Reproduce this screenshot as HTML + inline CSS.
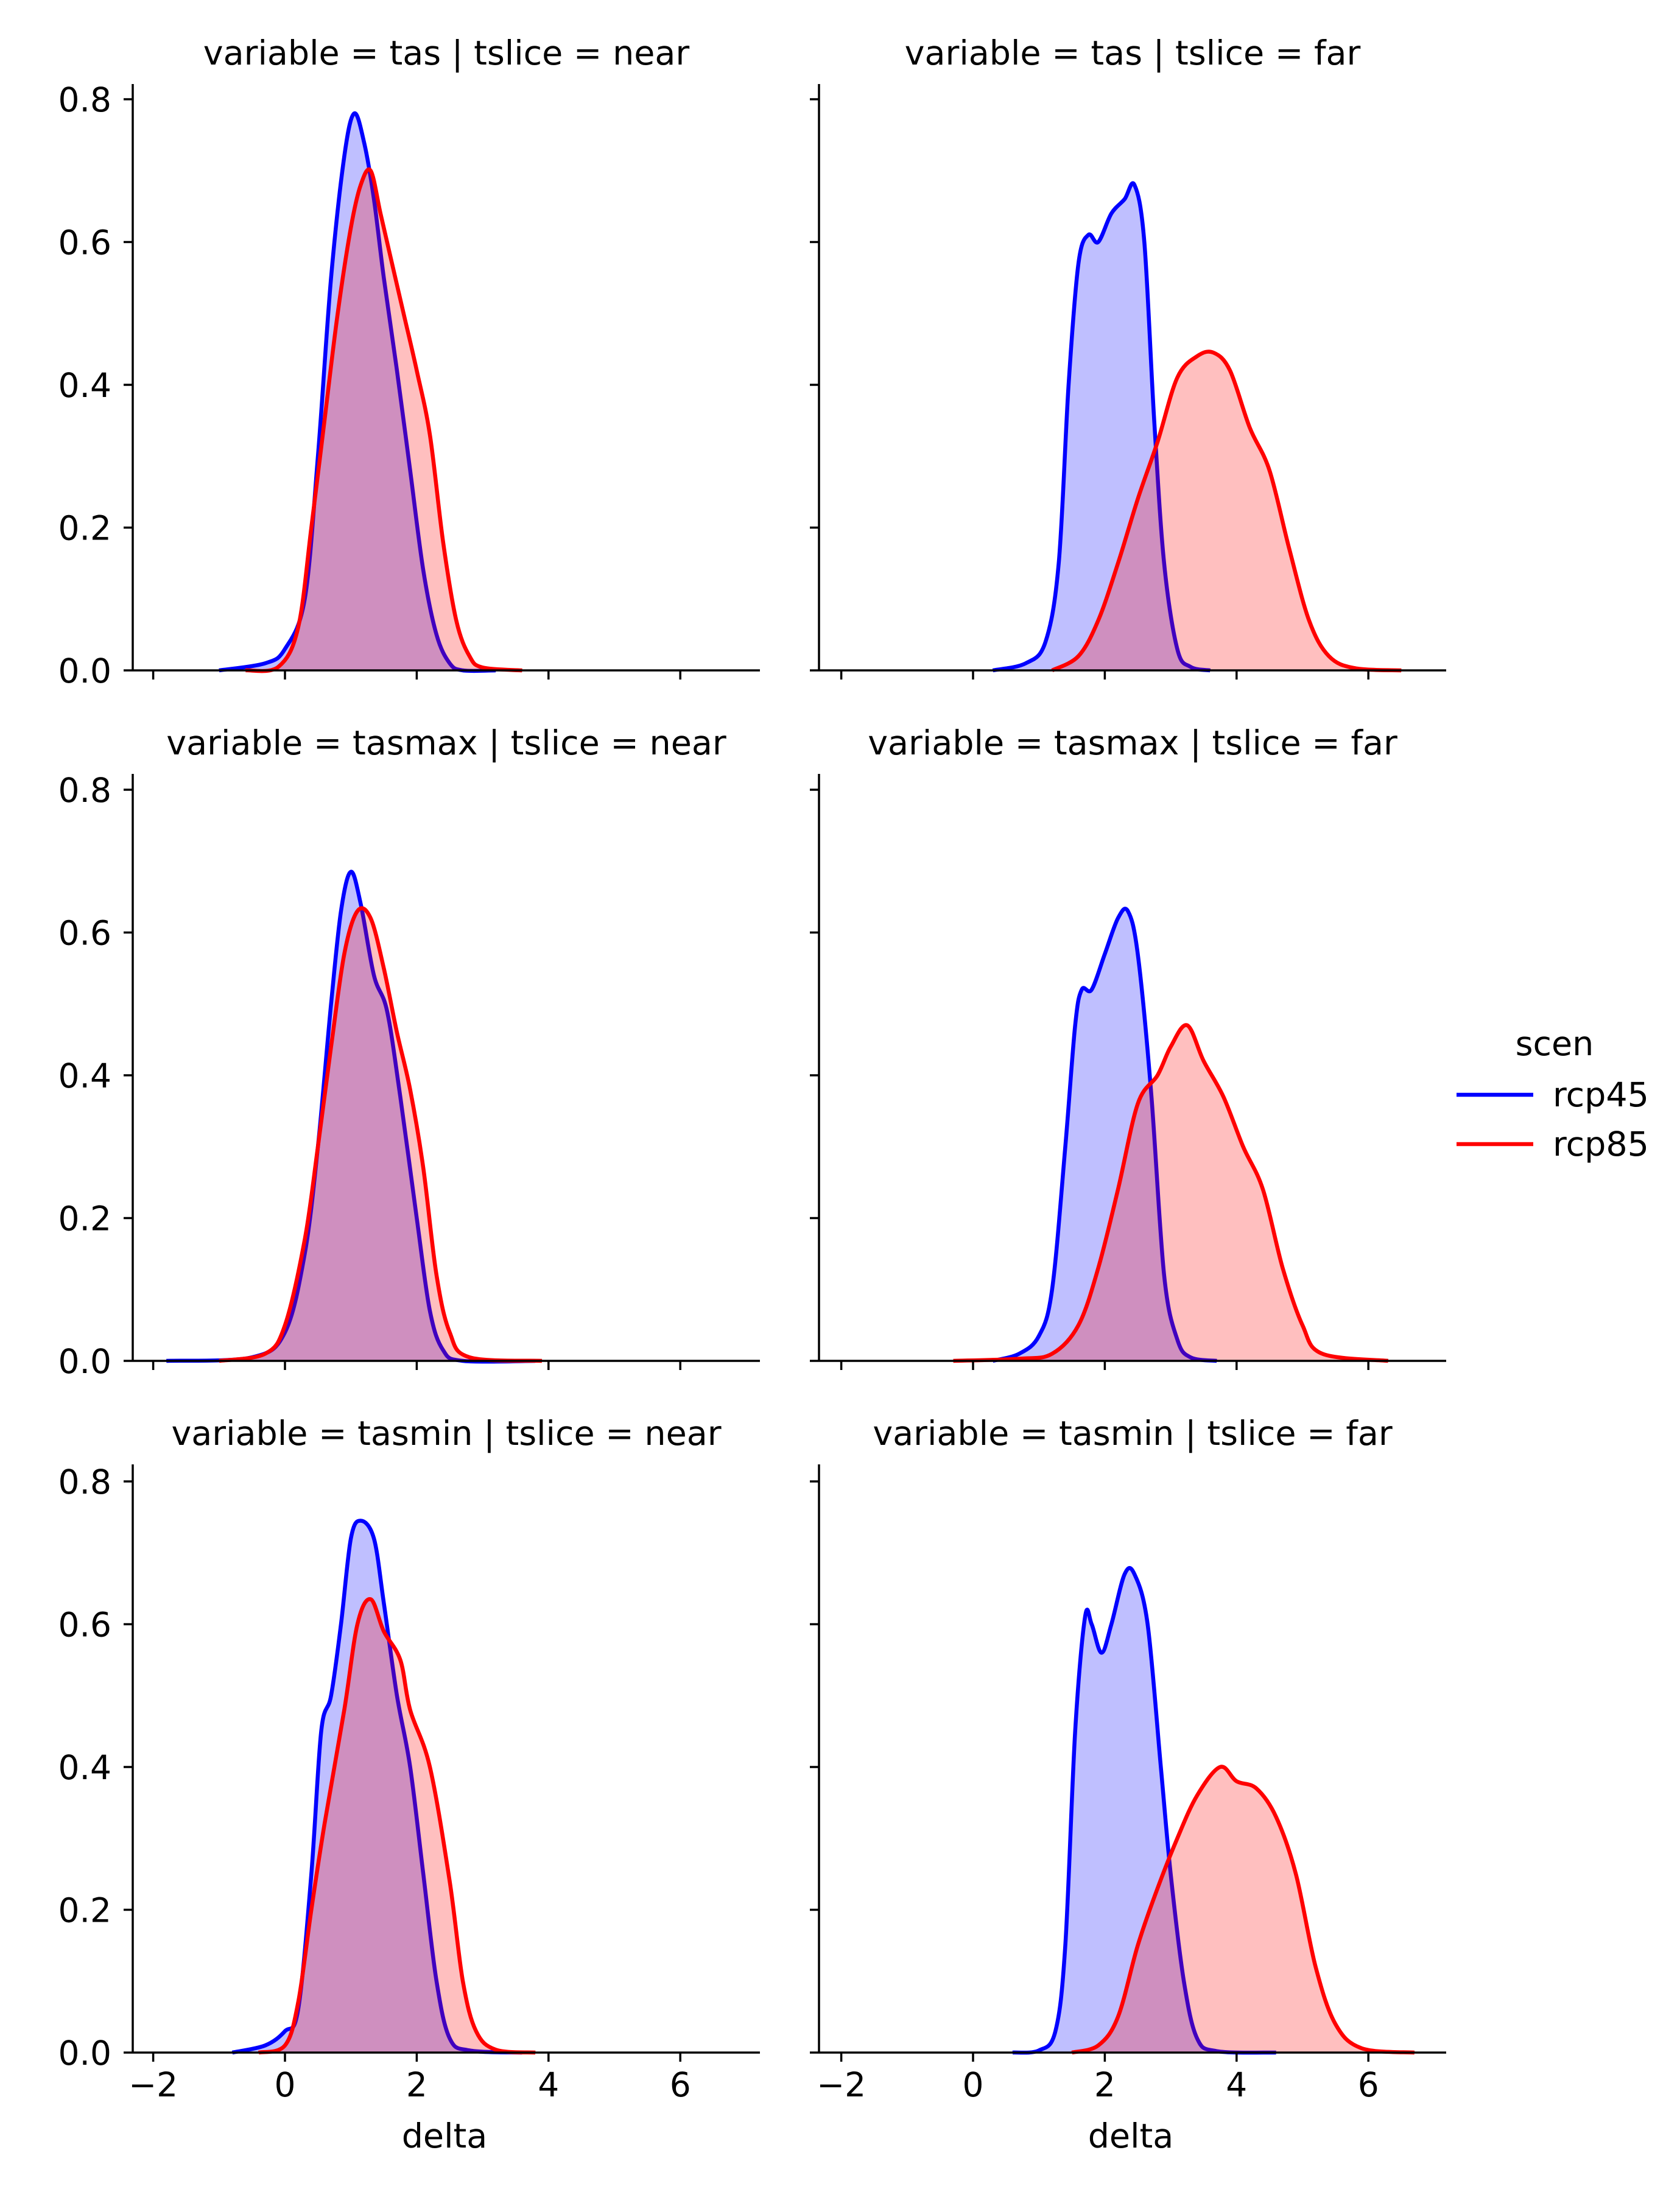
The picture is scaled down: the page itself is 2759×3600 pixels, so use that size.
<!DOCTYPE html>
<html><head><meta charset="utf-8"><style>
html,body{margin:0;padding:0;background:#fff}
svg{display:block;font-family:"DejaVu Sans","Liberation Sans",sans-serif}
</style></head><body>
<svg id="chart" width="2759" height="3600" viewBox="0 0 2759 3600" xmlns="http://www.w3.org/2000/svg"></svg>
<script>
const titles = ["variable = tas | tslice = near","variable = tas | tslice = far","variable = tasmax | tslice = near","variable = tasmax | tslice = far","variable = tasmin | tslice = near","variable = tasmin | tslice = far"];
const xTicks = [-2,0,2,4,6];
const yTicks = [0,0.2,0.4,0.6,0.8];
const yTickLabels = ["0.0","0.2","0.4","0.6","0.8"];
const rcp45TasNear = [[-1,0],[-0.3,0.01],[0,0.03],[0.3,0.1],[0.5,0.3],[0.7,0.55],[0.9,0.72],[1.05,0.78],[1.2,0.74],[1.35,0.66],[1.5,0.55],[1.7,0.42],[1.9,0.28],[2.1,0.14],[2.3,0.05],[2.5,0.01],[2.7,0],[3.2,0]];
const rcp85TasNear = [[-0.6,0],[-0.1,0.005],[0.2,0.06],[0.4,0.2],[0.6,0.35],[0.8,0.5],[1.0,0.62],[1.15,0.68],[1.3,0.7],[1.45,0.64],[1.6,0.58],[1.8,0.5],[2.0,0.42],[2.2,0.33],[2.4,0.18],[2.6,0.07],[2.8,0.02],[3.0,0.004],[3.6,0]];
const rcp45TasFar = [[0.3,0],[0.8,0.01],[1.1,0.04],[1.3,0.15],[1.45,0.4],[1.6,0.57],[1.75,0.61],[1.9,0.6],[2.1,0.64],[2.3,0.66],[2.45,0.68],[2.6,0.6],[2.75,0.35],[2.9,0.15],[3.1,0.03],[3.3,0.005],[3.6,0]];
const rcp85TasFar = [[1.2,0],[1.6,0.02],[1.9,0.07],[2.2,0.15],[2.5,0.24],[2.8,0.32],[3.1,0.41],[3.4,0.44],[3.65,0.445],[3.9,0.42],[4.2,0.34],[4.5,0.28],[4.8,0.17],[5.1,0.07],[5.4,0.02],[5.8,0.003],[6.5,0]];
const rcp45TasmaxNear = [[-1.8,0],[-0.5,0.005],[0,0.04],[0.3,0.15],[0.5,0.3],[0.7,0.5],[0.85,0.63],[1.0,0.685],[1.15,0.64],[1.35,0.54],[1.55,0.49],[1.75,0.37],[2.0,0.2],[2.2,0.07],[2.4,0.015],[2.7,0],[3.8,0]];
const rcp85TasmaxNear = [[-1,0],[-0.3,0.01],[0,0.05],[0.3,0.17],[0.5,0.3],[0.7,0.44],[0.9,0.57],[1.1,0.63],[1.3,0.62],[1.5,0.55],[1.7,0.46],[1.9,0.38],[2.1,0.27],[2.3,0.12],[2.5,0.04],[2.8,0.005],[3.9,0]];
const rcp45TasmaxFar = [[0.3,0],[0.7,0.01],[1.0,0.035],[1.2,0.1],[1.4,0.3],[1.55,0.47],[1.65,0.52],[1.8,0.52],[2.0,0.57],[2.2,0.62],[2.35,0.63],[2.5,0.57],[2.7,0.38],[2.9,0.12],[3.1,0.03],[3.3,0.005],[3.7,0]];
const rcp85TasmaxFar = [[-0.3,0],[0.7,0.003],[1.2,0.01],[1.6,0.05],[1.9,0.13],[2.2,0.24],[2.5,0.36],[2.8,0.4],[3.0,0.44],[3.25,0.47],[3.5,0.42],[3.8,0.37],[4.1,0.3],[4.4,0.24],[4.7,0.13],[5.0,0.05],[5.3,0.01],[6.3,0]];
const rcp45TasminNear = [[-0.8,0],[-0.3,0.01],[0,0.03],[0.2,0.06],[0.4,0.25],[0.55,0.45],[0.7,0.5],[0.85,0.6],[1.0,0.72],[1.15,0.745],[1.35,0.72],[1.5,0.63],[1.7,0.5],[1.9,0.4],[2.1,0.25],[2.3,0.1],[2.5,0.02],[2.8,0.003],[3.6,0]];
const rcp85TasminNear = [[-0.4,0],[0,0.01],[0.2,0.07],[0.4,0.2],[0.6,0.32],[0.9,0.48],[1.1,0.6],[1.3,0.635],[1.5,0.59],[1.75,0.55],[1.9,0.48],[2.2,0.4],[2.5,0.24],[2.7,0.1],[2.9,0.03],[3.2,0.004],[3.8,0]];
const rcp45TasminFar = [[0.6,0],[1.0,0.003],[1.25,0.03],[1.4,0.15],[1.55,0.45],[1.7,0.61],[1.8,0.6],[1.95,0.56],[2.1,0.6],[2.3,0.67],[2.45,0.67],[2.65,0.6],[2.85,0.4],[3.0,0.25],[3.2,0.1],[3.4,0.02],[3.7,0.002],[4.6,0]];
const rcp85TasminFar = [[1.5,0],[1.9,0.01],[2.2,0.05],[2.5,0.15],[2.8,0.23],[3.1,0.3],[3.4,0.36],[3.75,0.4],[4.0,0.38],[4.3,0.37],[4.6,0.33],[4.9,0.25],[5.2,0.12],[5.5,0.04],[5.9,0.006],[6.7,0]];
const rcp45Series = [rcp45TasNear,rcp45TasFar,rcp45TasmaxNear,rcp45TasmaxFar,rcp45TasminNear,rcp45TasminFar];
const rcp85Series = [rcp85TasNear,rcp85TasFar,rcp85TasmaxNear,rcp85TasmaxFar,rcp85TasminNear,rcp85TasminFar];

const NS="http://www.w3.org/2000/svg";
const svg=document.getElementById('chart');
const colLeft=[218,1345], colZero=[468,1598], unitX=108.2, axW=1030;
const rowZero=[1101,2235,3371], rowTop=[138,1271,2405], unitY=1172.5;
function mk(t,a,p){const e=document.createElementNS(NS,t);for(const k in a)e.setAttribute(k,a[k]);(p||svg).appendChild(e);return e;}
function smooth(pts){let d='M'+pts[0][0]+','+pts[0][1];for(let i=0;i<pts.length-1;i++){const p0=pts[Math.max(0,i-1)],p1=pts[i],p2=pts[i+1],p3=pts[Math.min(pts.length-1,i+2)];const c1=[p1[0]+(p2[0]-p0[0])/6,p1[1]+(p2[1]-p0[1])/6],c2=[p2[0]-(p3[0]-p1[0])/6,p2[1]-(p3[1]-p1[1])/6];d+=' C'+c1[0].toFixed(1)+','+c1[1].toFixed(1)+' '+c2[0].toFixed(1)+','+c2[1].toFixed(1)+' '+p2[0].toFixed(1)+','+p2[1].toFixed(1);}return d;}
for(let i=0;i<6;i++){
  const r=Math.floor(i/2),c=i%2;
  const g=mk('g',{});
  
  
  const xs=v=>colZero[c]+v*unitX, ys=v=>rowZero[r]-v*unitY;
  const t=mk('text',{x:colLeft[c]+axW/2,y:rowTop[r]-32,'text-anchor':'middle','font-size':55.5,fill:'#000'},g);
  t.textContent=titles[i];
  
  
  [[rcp45Series[i],'#0000ff','rcp45'],[rcp85Series[i],'#ff0000','rcp85']].forEach(([s,col,nm])=>{
    const pts=s.map(p=>[xs(p[0]),ys(p[1])]);
    const d=smooth(pts);
    const f=mk('path',{d:d+' L'+pts[pts.length-1][0]+','+rowZero[r]+' L'+pts[0][0]+','+rowZero[r]+' Z',fill:col,'fill-opacity':0.25,stroke:'none'},g);
    
    
    const l=mk('path',{d:d,fill:'none',stroke:col,'stroke-width':6.5,'stroke-linejoin':'round'},g);
    
    
  });
  const ya=mk('line',{x1:colLeft[c],x2:colLeft[c],y1:rowTop[r],y2:rowZero[r],stroke:'#000','stroke-width':3.5},g);
  
  
  const xa=mk('line',{x1:colLeft[c],x2:colLeft[c]+axW,y1:rowZero[r],y2:rowZero[r],stroke:'#000','stroke-width':3.5},g);
  
  
  yTicks.forEach((v,k)=>{
    mk('line',{x1:colLeft[c]-15,x2:colLeft[c],y1:ys(v),y2:ys(v),stroke:'#000','stroke-width':3.5},g);
    if(c===0){const tl=mk('text',{x:colLeft[c]-35,y:ys(v)+20,'text-anchor':'end','font-size':55,fill:'#000'},g);tl.textContent=yTickLabels[k];
      
      }
  });
  xTicks.forEach(v=>{
    mk('line',{x1:xs(v),x2:xs(v),y1:rowZero[r],y2:rowZero[r]+15,stroke:'#000','stroke-width':3.5},g);
    if(r===2){const tl=mk('text',{x:xs(v),y:rowZero[r]+72,'text-anchor':'middle','font-size':55,fill:'#000'},g);tl.textContent=(v<0?'\u2212':'')+Math.abs(v);
      
      }
  });
  if(r===2){const xl=mk('text',{x:colLeft[c]+axW/2-3,y:3527,'text-anchor':'middle','font-size':55.5,fill:'#000'},g);xl.textContent='delta';
    
    }
}
const lg=mk('g',{});


const lt=mk('text',{x:2553,y:1733,'text-anchor':'middle','font-size':55.5,fill:'#000'},lg);lt.textContent='scen';


[['rcp45','#0000ff',1798],['rcp85','#ff0000',1879]].forEach(([n,col,y])=>{
  const e=mk('g',{},lg);
  
  
  mk('line',{x1:2392,x2:2518,y1:y,y2:y,stroke:col,'stroke-width':6.5},e);
  const tx=mk('text',{x:2550,y:y+19,'font-size':55.5,fill:'#000'},e);tx.textContent=n;
});
</script>
</body></html>
